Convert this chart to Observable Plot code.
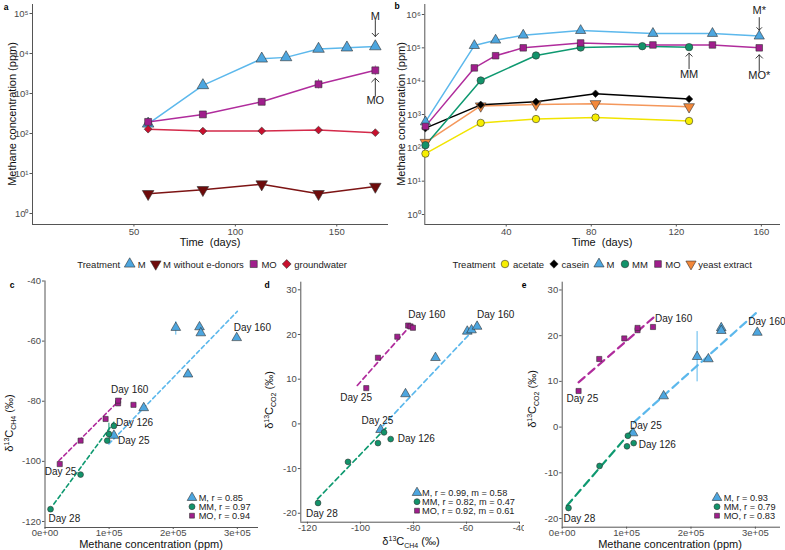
<!DOCTYPE html>
<html><head><meta charset="utf-8">
<script src="https://cdn.jsdelivr.net/npm/d3@7"></script>
<script src="https://cdn.jsdelivr.net/npm/@observablehq/plot@0.6"></script>
<style>
body{margin:0;background:#fff;font-family:"Liberation Sans",Arial,sans-serif;}
#fig{position:relative;width:785px;height:550px;overflow:hidden;background:#fff;}
.pnl{position:absolute;}
.ttl{position:absolute;font-size:11px;color:#111;white-space:nowrap;transform:translate(-50%,-50%);}
.rot{transform:translate(-50%,-50%) rotate(-90deg);}
.ttl sub,.ttl sup{font-size:7px;}
.letter{position:absolute;font-size:8.5px;font-weight:bold;color:#000;transform:translate(-50%,-50%);}
.leg{position:absolute;display:flex;align-items:center;font-size:9.5px;color:#222;white-space:nowrap;transform:translate(-100%,-50%);}
.leg span{margin:0 4px 0 1.5px;}
.leg span:last-child{margin-right:0;}
.lrow{position:absolute;display:flex;align-items:center;height:8.6px;font-size:9.2px;line-height:8.6px;color:#222;white-space:nowrap;transform:translateY(-50%);}
.lrow span{display:block;height:8.6px;line-height:8.6px;}
</style></head>
<body><div id="fig"></div>
<script>
// ---------------- DATA ----------------
// Panel a : methane (ppm) vs time (days)
const aDaysM = [57, 84, 113, 125, 141, 155, 169];
const aCh4M = [175, 1600, 7400, 8000, 13000, 14000, 15000];
const aDaysMO = [57, 84, 113, 141, 169];
const aCh4MO = [195, 300, 620, 1700, 3800];
const aErrMOLow = [null, null, 520, 1300, 2800];
const aErrMOHigh = [null, null, 740, 2250, 4900];
const aDaysNoED = [57, 84, 113, 141, 169];
const aCh4NoED = [3.1, 3.9, 5.4, 3.1, 4.7];
const aDaysGW = [57, 84, 113, 141, 169];
const aCh4GW = [128, 115, 116, 122, 105];
const aTreatments = ["M", "M without e-donors", "MO", "groundwater"];
const aXTicks = [50, 100, 150];
const aYTicks = [1, 10, 100, 1000, 10000, 100000];

// Panel b
const bDaysM = [2, 25, 35, 48, 75, 109, 137, 159];
const bCh4M = [600, 117000, 170000, 240000, 330000, 270000, 270000, 225000];
const bDaysMO = [2, 25, 35, 48, 75, 109, 137, 159];
const bCh4MO = [440, 25000, 58000, 100000, 140000, 122000, 122000, 100000];
const bDaysMM = [2, 28, 54, 75, 104, 126];
const bCh4MM = [120, 10500, 59000, 102000, 112000, 105000];
const bDaysCasein = [2, 28, 54, 82, 126];
const bCh4Casein = [390, 1950, 2400, 4200, 2900];
const bDaysYeast = [2, 28, 54, 82, 126];
const bCh4Yeast = [145, 1800, 2000, 2100, 1700];
const bDaysAcetate = [2, 28, 54, 82, 126];
const bCh4Acetate = [67, 560, 730, 810, 640];
const bTreatments = ["acetate", "casein", "M", "MM", "MO", "yeast extract"];
const bXTicks = [40, 80, 120, 160];
const bYTicks = [1, 10, 100, 1000, 10000, 100000, 1000000];

// Panel c : d13C-CH4 vs methane concentration
const cM_ch4 = [204000, 241000, 243000, 299000, 223000, 154000, 107500];
const cM_d13 = [-55.5, -55.3, -57.3, -58.9, -71.0, -82.2, -91.4];
const cMM_ch4 = [8600, 55500, 97000, 99700, 107500];
const cMM_d13 = [-115.9, -104.4, -93.1, -90.9, -88.2];
const cMO_ch4 = [23000, 55500, 94500, 114000, 114000, 138000];
const cMO_d13 = [-100.9, -93.1, -85.9, -80.7, -79.8, -81.2];
const cErrSeries = ["M", "MM"];
const cErrX = [204000, 99700];
const cErrLow = [-58.0, -92.5];
const cErrHigh = [-53.5, -87.3];
const cFitSeries = ["M", "MM", "MO"];
const cFitX1 = [99700, 13800, 21600];
const cFitX2 = [300000, 107500, 120600];
const cFitY1 = [-94.2, -114.2, -99.8];
const cFitY2 = [-50.1, -87.0, -78.7];
const cLegend = ["M, r = 0.85", "MM, r = 0.97", "MO, r = 0.94"];
const cXTicks = [0, 100000, 200000, 300000];
const cYTicks = [-120, -100, -80, -60, -40];

// Panel d : d13C-CO2 vs d13C-CH4
const dM_ch4 = [-92.4, -83.0, -71.7, -59.7, -58.1, -56.0];
const dM_co2 = [-1.3, 6.7, 14.8, 20.7, 21.0, 21.8];
const dMM_ch4 = [-116.0, -104.7, -93.4, -91.1, -88.6];
const dMM_co2 = [-17.7, -8.5, -4.3, -1.9, -3.4];
const dMO_ch4 = [-97.8, -93.4, -86.1, -82.0, -81.1, -80.2];
const dMO_co2 = [8.0, 14.8, 19.5, 22.0, 21.8, 21.5];
const dFitSeries = ["M", "MM", "MO"];
const dFitX1 = [-91.5, -116.2, -101.2];
const dFitX2 = [-56.6, -90.2, -81.7];
const dFitY1 = [-0.4, -16.8, 8.6];
const dFitY2 = [21.5, -0.8, 21.6];
const dLegend = ["M, r = 0.99, m = 0.58", "MM, r = 0.82, m = 0.47", "MO, r = 0.92, m = 0.61"];
const dXTicks = [-120, -100, -80, -60, -40];
const dYTicks = [-20, -10, 0, 10, 20, 30];

// Panel e : d13C-CO2 vs methane concentration
const eM_ch4 = [110000, 157500, 209500, 227000, 247000, 247000, 303000];
const eM_co2 = [-1.3, 6.8, 15.4, 14.9, 21.7, 21.1, 20.7];
const eMM_ch4 = [9800, 58000, 100600, 102000, 111000];
const eMM_co2 = [-17.7, -8.5, -4.2, -1.9, -3.5];
const eMO_ch4 = [25400, 57500, 96400, 117000, 117000, 141000];
const eMO_co2 = [7.9, 14.9, 19.4, 21.2, 21.7, 21.9];
const eErrSeries = ["M"];
const eErrX = [209500];
const eErrLow = [9.9];
const eErrHigh = [20.9];
const eFitSeries = ["M", "MM", "MO"];
const eFitX1 = [111000, 7300, 25400];
const eFitX2 = [303000, 108400, 142000];
const eFitY1 = [1.0, -17.2, 9.8];
const eFitY2 = [25.2, -0.7, 24.0];
const eLegend = ["M, r = 0.93", "MM, r = 0.79", "MO, r = 0.83"];
const eXTicks = [0, 100000, 200000, 300000];
const eYTicks = [-20, -10, 0, 10, 20, 30];

// ---------------- STYLE ----------------
const triangleDown = {draw(ctx, size) {
  const s3 = Math.sqrt(3), y = -Math.sqrt(size / (s3 * 3));
  ctx.moveTo(0, -y * 2); ctx.lineTo(-s3 * y, y); ctx.lineTo(s3 * y, y); ctx.closePath();
}};
const ST = {
  "M": {fill: "#4DA6DF", line: "#5CB8EC", sym: d3.symbolTriangle},
  "MO": {fill: "#A01E8C", line: "#B02C9C", sym: d3.symbolSquare},
  "MM": {fill: "#12936A", line: "#0E9970", sym: d3.symbolCircle},
  "groundwater": {fill: "#C8102E", line: "#D42A4A", sym: d3.symbolDiamond2},
  "M without e-donors": {fill: "#6E0B0B", line: "#7D1414", sym: triangleDown},
  "casein": {fill: "#000000", line: "#000000", sym: d3.symbolDiamond2},
  "yeast extract": {fill: "#F3883A", line: "#F4975B", sym: triangleDown},
  "acetate": {fill: "#F7EE00", line: "#F1E400", sym: d3.symbolCircle}
};
const AX = "#555";
const baseStyle = {fontFamily: "Liberation Sans, Arial, sans-serif", fontSize: "9.5px", color: "#4a4a4a", background: "transparent", overflow: "visible"};
const SUP = "⁰¹²³⁴⁵⁶⁷⁸⁹";
const pow10 = v => "10" + SUP[Math.round(Math.log10(v))];
const sci = v => v === 0 ? "0e+00" : (v / 1e5) + "e+05";
const rows = (xs, ys) => xs.map((x, i) => ({x, y: ys[i], i}));
const fig = document.getElementById("fig");

function place(svg, left, top, width, height, clip) {
  const d = document.createElement("div");
  d.className = "pnl";
  d.style.left = left + "px"; d.style.top = top + "px";
  d.style.width = width + "px"; d.style.height = height + "px";
  if (clip) d.style.overflow = "hidden";
  d.appendChild(svg); fig.appendChild(d);
}
function html(cls, x, y, inner) {
  const d = document.createElement("div");
  d.className = cls; d.style.left = x + "px"; d.style.top = y + "px";
  d.innerHTML = inner; fig.appendChild(d); return d;
}
function symSvg(name, area, s = 14) {
  const st = ST[name];
  const p = d3.symbol(st.sym, area)();
  return `<svg width="${s}" height="${s}" viewBox="${-s/2} ${-s/2} ${s} ${s}" style="display:block;flex:none;overflow:visible"><path d="${p}" fill="${st.fill}" stroke="#333" stroke-width="0.6"/></svg>`;
}
function axes(xT, yT, xFmt, yFmt, xMin, yMin, tk) {
  return [
    Plot.ruleX([xMin], {stroke: AX, strokeWidth: 1}),
    Plot.ruleY([yMin], {stroke: AX, strokeWidth: 1}),
    Plot.axisX(xT, {tickSize: tk.xs, tickPadding: tk.xp, label: null, tickFormat: xFmt, stroke: AX}),
    Plot.axisY(yT, {tickSize: 2.5, tickPadding: 1.5, label: null, tickFormat: yFmt, stroke: AX})
  ];
}
function seriesMarks(data, name, r, lineWidth) {
  const st = ST[name];
  return {
    line: Plot.line(data, {x: "x", y: "y", stroke: st.line, strokeWidth: lineWidth}),
    dot: Plot.dot(data, {x: "x", y: "y", symbol: st.sym, fill: st.fill, stroke: "#333", strokeWidth: 0.6, r})
  };
}

// ---------------- PANEL A ----------------
{
  const S = [
    ["M", rows(aDaysM, aCh4M), 4.3],
    ["M without e-donors", rows(aDaysNoED, aCh4NoED), 4.3],
    ["MO", rows(aDaysMO, aCh4MO), 3.9],
    ["groundwater", rows(aDaysGW, aCh4GW), 3.5]
  ];
  const err = aDaysMO.map((x, i) => ({x, lo: aErrMOLow[i], hi: aErrMOHigh[i]})).filter(d => d.lo != null);
  const ms = S.map(([n, d, r]) => seriesMarks(d, n, r, 1.5));
  const lastM = rows(aDaysM, aCh4M).slice(-1);
  const lastMO = rows(aDaysMO, aCh4MO).slice(-1);
  const svg = Plot.plot({
    width: 395, height: 250, marginLeft: 32, marginRight: 7, marginTop: 4, marginBottom: 26,
    style: baseStyle,
    x: {domain: [0, 175.5]},
    y: {type: "log", domain: [Math.pow(10, -0.275), Math.pow(10, 5.225)]},
    marks: [
      ...axes(aXTicks, aYTicks, d => d, pow10, 0, Math.pow(10, -0.275), {xs: 2.5, xp: 1}),
      ...ms.map(m => m.line),
      Plot.ruleX(err, {x: "x", y1: "lo", y2: "hi", stroke: "#C86DBA", strokeWidth: 1}),
      ...ms.map(m => m.dot),
      Plot.vector(lastM, {x: "x", y: "y", length: 16, rotate: 180, anchor: "end", dy: -10, stroke: "#222", strokeWidth: 0.9}),
      Plot.text(lastM, {x: "x", y: "y", text: () => "M", dy: -30, fontSize: 11, fill: "#222"}),
      Plot.vector(lastMO, {x: "x", y: "y", length: 18, rotate: 0, anchor: "end", dy: 8, stroke: "#222", strokeWidth: 0.9}),
      Plot.text(lastMO, {x: "x", y: "y", text: () => "MO", dy: 30, fontSize: 11, fill: "#222"})
    ]
  });
  place(svg, 0, 0, 395, 250);
  html("ttl rot", 12, 114, "Methane concentration (ppm)");
  html("ttl", 210, 242, "Time&nbsp; (days)");
  html("letter", 6, 7, "a");
  html("leg", 347, 264, "<span>Treatment</span>" + aTreatments.map(n => symSvg(n, 50, 12) + `<span>${n}</span>`).join(""));
}

// ---------------- PANEL B ----------------
{
  const S = [
    ["acetate", rows(bDaysAcetate, bCh4Acetate), 3.7],
    ["yeast extract", rows(bDaysYeast, bCh4Yeast), 4.0],
    ["casein", rows(bDaysCasein, bCh4Casein), 3.4],
    ["MM", rows(bDaysMM, bCh4MM), 3.7],
    ["M", rows(bDaysM, bCh4M), 3.8],
    ["MO", rows(bDaysMO, bCh4MO), 3.7]
  ];
  const ms = S.map(([n, d, r]) => seriesMarks(d, n, r, 1.5));
  const lastM = rows(bDaysM, bCh4M).slice(-1);
  const lastMO = rows(bDaysMO, bCh4MO).slice(-1);
  const lastMM = rows(bDaysMM, bCh4MM).slice(-1);
  const svg = Plot.plot({
    width: 395, height: 250, marginLeft: 34.3, marginRight: 5, marginTop: 4, marginBottom: 26,
    style: baseStyle,
    x: {domain: [1.7, 169]},
    y: {type: "log", domain: [Math.pow(10, -0.3), Math.pow(10, 6.3)]},
    marks: [
      ...axes(bXTicks, bYTicks, d => d, pow10, 1.7, Math.pow(10, -0.3), {xs: 2.5, xp: 1}),
      ...ms.map(m => m.line),
      ...ms.map(m => m.dot),
      Plot.vector(lastM, {x: "x", y: "y", length: 12.5, rotate: 180, anchor: "end", dy: -6, stroke: "#222", strokeWidth: 0.9}),
      Plot.text(lastM, {x: "x", y: "y", text: () => "M*", dy: -26, fontSize: 11, fill: "#222"}),
      Plot.vector(lastMO, {x: "x", y: "y", length: 16.5, rotate: 0, anchor: "end", dy: 7, stroke: "#222", strokeWidth: 0.9}),
      Plot.text(lastMO, {x: "x", y: "y", text: () => "MO*", dy: 28, fontSize: 11, fill: "#222"}),
      Plot.vector(lastMM, {x: "x", y: "y", length: 15.5, rotate: 0, anchor: "end", dy: 6, stroke: "#222", strokeWidth: 0.9}),
      Plot.text(lastMM, {x: "x", y: "y", text: () => "MM", dy: 27, fontSize: 11, fill: "#222"})
    ]
  });
  place(svg, 390, 0, 395, 250);
  html("ttl rot", 401, 114, "Methane concentration (ppm)");
  html("ttl", 602, 242, "Time&nbsp; (days)");
  html("letter", 397, 6, "b");
  html("leg", 752, 264, "<span>Treatment</span>" + bTreatments.map(n => symSvg(n, 45, 12) + `<span>${n}</span>`).join(""));
}

// ---------------- scatter panels ----------------
function scatter(cfg) {
  const names = ["M", "MM", "MO"];
  const R = {"M": 3.6, "MM": 2.9, "MO": 2.9};
  const data = {"M": rows(cfg.M[0], cfg.M[1]), "MM": rows(cfg.MM[0], cfg.MM[1]), "MO": rows(cfg.MO[0], cfg.MO[1])};
  const fits = cfg.fit.series.map((s, i) => [{s, x: cfg.fit.x1[i], y: cfg.fit.y1[i]}, {s, x: cfg.fit.x2[i], y: cfg.fit.y2[i]}]).flat();
  const errs = cfg.err ? cfg.err.series.map((s, i) => ({s, x: cfg.err.x[i], lo: cfg.err.lo[i], hi: cfg.err.hi[i]})) : [];
  const labelMarks = cfg.labels.map(l => {
    const p = data[l.s][l.i];
    return Plot.text([p], {x: "x", y: "y", text: () => l.t, dx: l.dx, dy: l.dy, textAnchor: "start", fontSize: 10, fill: "#1a1a1a"});
  });
  const svg = Plot.plot({
    width: cfg.w, height: 280, marginLeft: cfg.ml, marginRight: cfg.mr, marginTop: cfg.mt, marginBottom: cfg.mb,
    style: baseStyle,
    x: {domain: cfg.xd}, y: {domain: cfg.yd},
    marks: [
      ...axes(cfg.xt, cfg.yt, cfg.xf, d => d, cfg.xd[0], cfg.yd[0], {xs: 2, xp: 0}),
      Plot.line(fits, {x: "x", y: "y", z: "s", stroke: d => ST[d.s].line, strokeWidth: cfg.lw, strokeDasharray: cfg.dash}),
      Plot.ruleX(errs, {x: "x", y1: "lo", y2: "hi", stroke: d => ST[d.s].line, strokeWidth: 1}),
      ...names.map(n => Plot.dot(data[n], {x: "x", y: "y", symbol: ST[n].sym, fill: ST[n].fill, stroke: "#333", strokeWidth: 0.6, r: R[n]})),
      ...labelMarks
    ]
  });
  place(svg, cfg.left, 270, cfg.w, 280, cfg.clip);
  const area = {"M": 40, "MM": 28, "MO": 24};
  cfg.legend.forEach((t, i) => {
    html("lrow", cfg.lx - 7, cfg.ly + i * 9, symSvg(names[i], area[names[i]]) + `<span style="margin-left:${cfg.ltx}px">${t}</span>`);
  });
}

scatter({
  left: 0, w: 262, ml: 44.5, mr: 4, mt: 10.5, mb: 23, clip: false,
  xd: [0, 333000], yd: [-122, -40], xt: cXTicks, yt: cYTicks, xf: sci,
  M: [cM_ch4, cM_d13], MM: [cMM_ch4, cMM_d13], MO: [cMO_ch4, cMO_d13],
  fit: {series: cFitSeries, x1: cFitX1, x2: cFitX2, y1: cFitY1, y2: cFitY2},
  err: {series: cErrSeries, x: cErrX, lo: cErrLow, hi: cErrHigh},
  dash: "4,3", lw: 1.6,
  labels: [
    {s: "M", i: 3, t: "Day 160", dx: -3, dy: -10},
    {s: "M", i: 6, t: "Day 25", dx: 4, dy: 5},
    {s: "MO", i: 4, t: "Day 160", dx: -7, dy: -11},
    {s: "MM", i: 4, t: "Day 126", dx: 2, dy: -3},
    {s: "MO", i: 0, t: "Day 25", dx: -15, dy: 8},
    {s: "MM", i: 0, t: "Day 28", dx: -2, dy: 10}
  ],
  legend: cLegend, lx: 191.7, ly: 497.7, ltx: 0
});
html("ttl rot", 10, 423, "δ<sup>13</sup>C<sub>CH4</sub> (‰)");
html("ttl", 151, 544, "Methane concentration (ppm)");
html("letter", 12, 285, "c");

scatter({
  left: 262, w: 262, ml: 38.3, mr: 5, mt: 11.7, mb: 28.3, clip: true,
  xd: [-122.5, -40], yd: [-22, 31.7], xt: dXTicks, yt: dYTicks, xf: d => d,
  M: [dM_ch4, dM_co2], MM: [dMM_ch4, dMM_co2], MO: [dMO_ch4, dMO_co2],
  fit: {series: dFitSeries, x1: dFitX1, x2: dFitX2, y1: dFitY1, y2: dFitY2},
  err: null,
  dash: "5,3.5", lw: 1.7,
  labels: [
    {s: "MO", i: 3, t: "Day 160", dx: 0, dy: -11},
    {s: "M", i: 5, t: "Day 160", dx: 0, dy: -12},
    {s: "MO", i: 0, t: "Day 25", dx: -26, dy: 10},
    {s: "M", i: 0, t: "Day 25", dx: -19, dy: -9},
    {s: "MM", i: 4, t: "Day 126", dx: 7, dy: 0},
    {s: "MM", i: 0, t: "Day 28", dx: -12, dy: 11}
  ],
  legend: dLegend, lx: 417, ly: 492.7, ltx: -2
});
html("ttl rot", 270, 400, "δ<sup>13</sup>C<sub>CO2</sub> (‰)");
html("ttl", 411, 542, "δ<sup>13</sup>C<sub>CH4</sub> (‰)");
html("letter", 267, 285, "d");

scatter({
  left: 524, w: 261, ml: 37.7, mr: 5, mt: 11.7, mb: 23.3, clip: false,
  xd: [0, 339000], yd: [-21.9, 31.7], xt: eXTicks, yt: eYTicks, xf: sci,
  M: [eM_ch4, eM_co2], MM: [eMM_ch4, eMM_co2], MO: [eMO_ch4, eMO_co2],
  fit: {series: eFitSeries, x1: eFitX1, x2: eFitX2, y1: eFitY1, y2: eFitY2},
  err: {series: eErrSeries, x: eErrX, lo: eErrLow, hi: eErrHigh},
  dash: "8,5", lw: 2.2,
  labels: [
    {s: "MO", i: 5, t: "Day 160", dx: 2, dy: -8},
    {s: "M", i: 6, t: "Day 160", dx: -9, dy: -11},
    {s: "MO", i: 0, t: "Day 25", dx: -12, dy: 8},
    {s: "M", i: 0, t: "Day 25", dx: -3, dy: -7},
    {s: "MM", i: 4, t: "Day 126", dx: 5, dy: 2},
    {s: "MM", i: 0, t: "Day 28", dx: -5, dy: 11}
  ],
  legend: eLegend, lx: 716.7, ly: 497.7, ltx: 0
});
html("ttl rot", 533, 399, "δ<sup>13</sup>C<sub>CO2</sub> (‰)");
html("ttl", 670, 544, "Methane concentration (ppm)");
html("letter", 524, 285, "e");
</script></body></html>
